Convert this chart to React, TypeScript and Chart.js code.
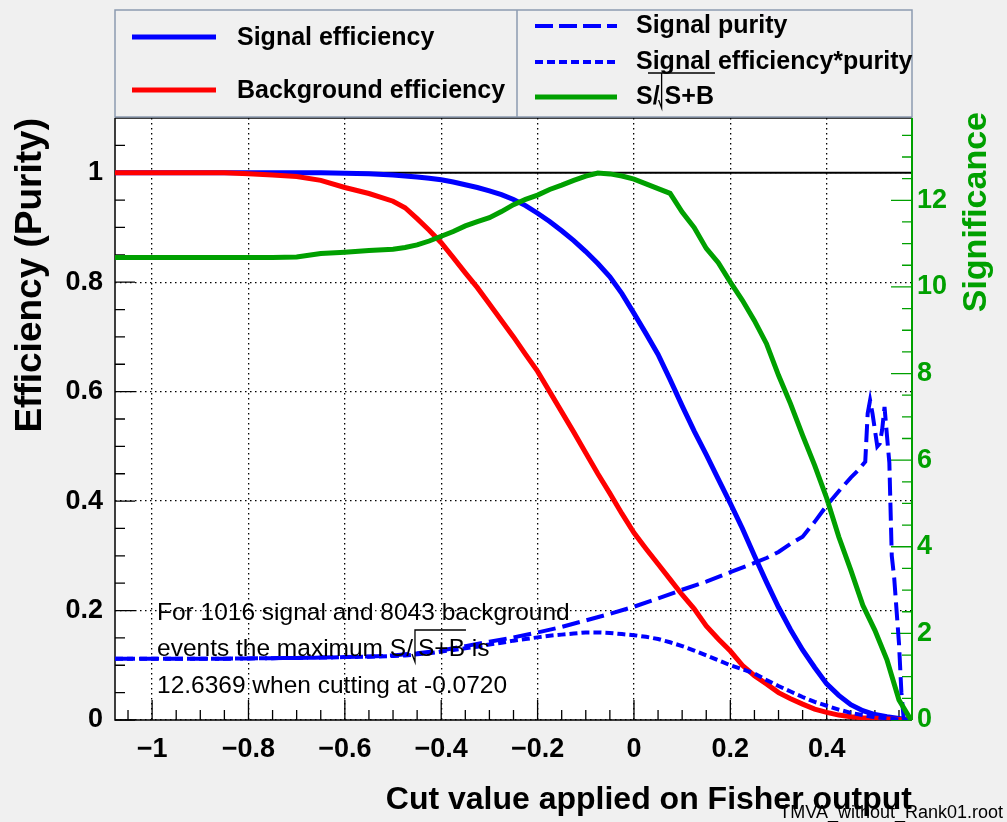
import { useEffect, useRef } from "react";
import { Chart, registerables } from "chart.js";

Chart.register(...registerables);

const BG = "#f0f0f0";
const GREEN = "#00a000";
const BLUE = "#0000ff";
const RED = "#ff0000";
const FONT = '"Liberation Sans", Arial, Helvetica, sans-serif';

const X_MIN = -1.077;
const X_MAX = 0.577;
const Y_MAX = 1.1;
const MAX_SIGNIFICANCE = 12.6369;
const MAX_CUT = -0.072;
const N_SIGNAL = 1016;
const N_BACKGROUND = 8043;

const xTickValues = [-1, -0.8, -0.6, -0.4, -0.2, 0, 0.2, 0.4];
const yTickValues = [0, 0.2, 0.4, 0.6, 0.8, 1];
const sigTickValues = [0, 2, 4, 6, 8, 10, 12];

const cutValues = [
  -1.077, -1.0, -0.95, -0.9, -0.85, -0.8, -0.75, -0.7, -0.65, -0.6, -0.55,
  -0.5, -0.475, -0.45, -0.425, -0.4, -0.375, -0.35, -0.325, -0.3, -0.275,
  -0.25, -0.225, -0.2, -0.175, -0.15, -0.125, -0.1, -0.075, -0.05, -0.025,
  0, 0.025, 0.05, 0.075, 0.1, 0.125, 0.15, 0.175, 0.2, 0.225,
  0.25, 0.275, 0.3, 0.325, 0.35, 0.375, 0.4, 0.425, 0.45, 0.475,
  0.5, 0.525, 0.55, 0.575,
];

const signalEfficiency = [
  1.0, 1.0, 1.0, 1.0, 1.0, 1.0, 1.0, 1.0, 1.0, 0.999, 0.998,
  0.996, 0.994, 0.992, 0.99, 0.987, 0.983, 0.978, 0.973, 0.967, 0.96,
  0.951, 0.94, 0.926, 0.911, 0.894, 0.876, 0.856, 0.834, 0.81, 0.779,
  0.743, 0.706, 0.668, 0.622, 0.574, 0.528, 0.485, 0.44, 0.396, 0.35,
  0.3, 0.252, 0.206, 0.165, 0.128, 0.096, 0.066, 0.045, 0.028, 0.017,
  0.01, 0.006, 0.003, 0.0,
];

const backgroundEfficiency = [
  1.0, 1.0, 1.0, 1.0, 1.0, 0.998, 0.996, 0.993, 0.986, 0.973, 0.962,
  0.948, 0.936, 0.916, 0.895, 0.872, 0.845, 0.817, 0.79, 0.76, 0.73,
  0.7, 0.668, 0.637, 0.6, 0.563, 0.526, 0.488, 0.45, 0.414, 0.377,
  0.342, 0.313, 0.285, 0.257, 0.229, 0.203, 0.172, 0.148, 0.126, 0.1,
  0.081, 0.066, 0.05, 0.039, 0.029, 0.02, 0.014, 0.009, 0.006, 0.004,
  0.003, 0.002, 0.001, 0.0,
];

const efficiencyTimesPurity = [
  0.112, 0.112, 0.112, 0.112, 0.112, 0.1125, 0.113, 0.1135, 0.114, 0.115, 0.1155,
  0.117, 0.118, 0.12, 0.122, 0.125, 0.128, 0.131, 0.134, 0.138, 0.141,
  0.145, 0.148, 0.151, 0.154, 0.156, 0.158, 0.16, 0.16, 0.159, 0.157,
  0.155, 0.152, 0.148, 0.142, 0.135, 0.127, 0.118, 0.109, 0.1, 0.093,
  0.085, 0.073, 0.062, 0.052, 0.042, 0.033, 0.026, 0.019, 0.013, 0.009,
  0.005, 0.003, 0.001, 0.0,
];

const significance = [
  10.68, 10.68, 10.68, 10.68, 10.68, 10.68, 10.68, 10.69, 10.77, 10.8, 10.84,
  10.87, 10.91, 10.97, 11.06, 11.17, 11.28, 11.41, 11.51, 11.6, 11.74,
  11.9, 12.02, 12.12, 12.25, 12.35, 12.46, 12.56, 12.63, 12.61, 12.56,
  12.49, 12.38, 12.27, 12.16, 11.73, 11.37, 10.89, 10.56, 10.11, 9.69,
  9.22, 8.69, 7.96, 7.3, 6.57, 5.88, 5.12, 4.23, 3.46, 2.65,
  2.07, 1.39, 0.46, 0.0,
];

const purityCuts = [
  -1.077, -1.0, -0.9, -0.85, -0.8, -0.75, -0.7, -0.65, -0.6, -0.55, -0.5,
  -0.45, -0.4, -0.35, -0.3, -0.25, -0.2, -0.15, -0.1, -0.05, 0,
  0.05, 0.1, 0.15, 0.2, 0.25, 0.275, 0.3, 0.325, 0.35, 0.375,
  0.4, 0.425, 0.45, 0.465, 0.48, 0.485, 0.49, 0.495, 0.5, 0.505,
  0.51, 0.515, 0.52, 0.525, 0.53, 0.535, 0.54, 0.545, 0.55, 0.555, 0.56,
];

const signalPurity = [
  0.112, 0.112, 0.112, 0.112, 0.1125, 0.113, 0.1135, 0.114, 0.115, 0.116, 0.118,
  0.122, 0.127, 0.135, 0.143, 0.151, 0.16, 0.17, 0.182, 0.194, 0.207,
  0.222, 0.238, 0.253, 0.27, 0.287, 0.296, 0.307, 0.322, 0.335, 0.362,
  0.392, 0.418, 0.443, 0.456, 0.472, 0.56, 0.584, 0.56, 0.53, 0.5,
  0.505, 0.53, 0.572, 0.52, 0.47, 0.3, 0.26, 0.2, 0.14, 0.05, 0.0,
];

const legendLeft = [
  { label: "Signal efficiency", color: BLUE, dash: [] as number[], width: 5 },
  { label: "Background efficiency", color: RED, dash: [] as number[], width: 5 },
];
const legendRight = [
  { label: "Signal purity", color: BLUE, dash: [18, 6], width: 4 },
  { label: "Signal efficiency*purity", color: BLUE, dash: [8, 4], width: 4 },
  { label: "S/", color: GREEN, dash: [] as number[], width: 5, sqrt: "S+B" },
];

function fmt(v: number): string {
  const r = Math.round(v * 10) / 10;
  if (r === 0) return "0";
  return (r < 0 ? "\u2212" : "") + String(Math.abs(r));
}

function drawRadicalText(
  ctx: CanvasRenderingContext2D,
  x: number,
  y: number,
  before: string,
  inside: string,
  after: string,
  topOff: number,
  botOff: number,
  overStart?: number
) {
  ctx.fillText(before, x, y);
  const rx = x + ctx.measureText(before).width + 2;
  const ix = rx + 3;
  ctx.fillText(inside, ix, y);
  const iw = ctx.measureText(inside).width;
  ctx.save();
  ctx.lineWidth = 1.3;
  ctx.strokeStyle = "#000";
  ctx.setLineDash([]);
  ctx.beginPath();
  ctx.moveTo(rx - 3, y + botOff - 8);
  ctx.lineTo(rx, y + botOff);
  ctx.lineTo(rx, y + topOff);
  ctx.lineTo(ix + iw + 1, y + topOff);
  if (overStart !== undefined) {
    ctx.moveTo(overStart, y + topOff);
    ctx.lineTo(rx, y + topOff);
  }
  ctx.stroke();
  ctx.restore();
  if (after) ctx.fillText(after, ix + iw, y);
}

const rootStyle = {
  id: "rootStyle",
  beforeDraw(chart: any) {
    const { ctx, chartArea: a } = chart;
    ctx.save();
    ctx.fillStyle = BG;
    ctx.fillRect(0, 0, chart.width, chart.height);
    ctx.fillStyle = "#ffffff";
    ctx.fillRect(a.left, a.top, a.right - a.left, a.bottom - a.top);
    ctx.restore();
  },
  beforeDatasetsDraw(chart: any) {
    const { ctx, chartArea: a } = chart;
    const xs = chart.scales.x;
    const ys = chart.scales.y;
    const ys1 = chart.scales.y1;
    ctx.save();
    ctx.setLineDash([]);
    ctx.strokeStyle = "#000";
    ctx.lineWidth = 2;
    const y1px = ys.getPixelForValue(1);
    ctx.beginPath();
    ctx.moveTo(a.left, y1px);
    ctx.lineTo(a.right, y1px);
    ctx.stroke();
    ctx.lineWidth = 1.3;
    ctx.beginPath();
    for (let k = -21; k <= 11; k++) {
      const px = xs.getPixelForValue(k * 0.05);
      const len = k % 4 === 0 ? 20 : 10;
      ctx.moveTo(px, a.bottom);
      ctx.lineTo(px, a.bottom - len);
    }
    for (let k = 0; k <= 21; k++) {
      const py = ys.getPixelForValue(k * 0.05);
      const len = k % 4 === 0 ? 20 : 10;
      ctx.moveTo(a.left, py);
      ctx.lineTo(a.left + len, py);
    }
    ctx.stroke();
    ctx.lineWidth = 1.5;
    ctx.beginPath();
    ctx.moveTo(a.left, a.top);
    ctx.lineTo(a.left, a.bottom);
    ctx.lineTo(a.right, a.bottom);
    ctx.moveTo(a.left, a.top);
    ctx.lineTo(a.right, a.top);
    ctx.stroke();
    ctx.strokeStyle = GREEN;
    ctx.lineWidth = 1.3;
    ctx.beginPath();
    for (let k = 0; k <= 27; k++) {
      const py = ys1.getPixelForValue(k * 0.5);
      const len = k % 4 === 0 ? 21 : 10;
      ctx.moveTo(a.right, py);
      ctx.lineTo(a.right - len, py);
    }
    ctx.stroke();
    ctx.lineWidth = 2;
    ctx.beginPath();
    ctx.moveTo(a.right, a.top);
    ctx.lineTo(a.right, a.bottom);
    ctx.stroke();
    ctx.restore();
  },
  afterDraw(chart: any) {
    const { ctx, chartArea: a } = chart;
    ctx.save();
    ctx.setLineDash([]);
    ctx.fillStyle = "#000";
    ctx.font = `bold 32px ${FONT}`;
    ctx.textAlign = "right";
    ctx.textBaseline = "alphabetic";
    ctx.fillText("Cut value applied on Fisher output", a.right, 809);

    ctx.save();
    ctx.translate(31, a.top);
    ctx.rotate(-Math.PI / 2);
    ctx.font = `bold 37px ${FONT}`;
    ctx.textAlign = "right";
    ctx.textBaseline = "middle";
    ctx.fillText("Efficiency (Purity)", 0, 0);
    ctx.restore();

    ctx.save();
    ctx.translate(977, a.top - 6);
    ctx.rotate(-Math.PI / 2);
    ctx.font = `bold 34px ${FONT}`;
    ctx.fillStyle = GREEN;
    ctx.textAlign = "right";
    ctx.textBaseline = "middle";
    ctx.fillText("Significance", 0, 0);
    ctx.restore();

    ctx.font = `18px ${FONT}`;
    ctx.textAlign = "right";
    ctx.textBaseline = "alphabetic";
    ctx.fillStyle = "#000";
    ctx.fillText("TMVA_without_Rank01.root", 1003, 818);

    ctx.font = `24.5px ${FONT}`;
    ctx.textAlign = "left";
    ctx.textBaseline = "middle";
    const ax = 157;
    ctx.fillText(`For ${N_SIGNAL} signal and ${N_BACKGROUND} background`, ax, 613);
    drawRadicalText(ctx, ax, 649, "events the maximum S/", "S+B", " is", -19, 13);
    ctx.fillText(
      `${MAX_SIGNIFICANCE.toFixed(4)} when cutting at ${MAX_CUT.toFixed(4)}`,
      ax,
      686
    );

    ctx.strokeStyle = "#8c9bb0";
    ctx.lineWidth = 1.5;
    ctx.strokeRect(a.left, 10, a.right - a.left, 107);
    ctx.beginPath();
    ctx.moveTo(517, 10);
    ctx.lineTo(517, 117);
    ctx.stroke();

    ctx.font = `bold 25px ${FONT}`;
    ctx.textAlign = "left";
    ctx.textBaseline = "middle";
    const leftYs = [37, 90];
    legendLeft.forEach((item, i) => {
      ctx.strokeStyle = item.color;
      ctx.lineWidth = item.width;
      ctx.setLineDash(item.dash);
      ctx.beginPath();
      ctx.moveTo(132, leftYs[i]);
      ctx.lineTo(216, leftYs[i]);
      ctx.stroke();
      ctx.setLineDash([]);
      ctx.fillStyle = "#000";
      ctx.fillText(item.label, 237, leftYs[i] + 1);
    });
    const rightYs = [26, 62, 97];
    legendRight.forEach((item, i) => {
      ctx.strokeStyle = item.color;
      ctx.lineWidth = item.width;
      ctx.setLineDash(item.dash);
      ctx.beginPath();
      ctx.moveTo(535, rightYs[i]);
      ctx.lineTo(617, rightYs[i]);
      ctx.stroke();
      ctx.setLineDash([]);
      ctx.fillStyle = "#000";
      if (item.sqrt) {
        drawRadicalText(ctx, 636, rightYs[i], item.label, item.sqrt, "", -24, 11, 648);
      } else {
        ctx.fillText(item.label, 636, rightYs[i]);
      }
    });
    ctx.restore();
  },
};

export default function App() {
  const ref = useRef<HTMLCanvasElement | null>(null);
  useEffect(() => {
    document.body.style.margin = "0";
    document.body.style.background = BG;
    const tickFont = { family: FONT, size: 27, weight: "bold" as const };
    const chart = new Chart(ref.current as HTMLCanvasElement, {
      type: "line",
      data: {
        datasets: [
          {
            label: "S/sqrt(S+B)",
            data: cutValues.map((x, i) => ({ x, y: significance[i] })),
            yAxisID: "y1",
            borderColor: GREEN,
            borderWidth: 5,
            pointRadius: 0,
          },
          {
            label: "Signal efficiency*purity",
            data: cutValues.map((x, i) => ({ x, y: efficiencyTimesPurity[i] })),
            yAxisID: "y",
            borderColor: BLUE,
            borderWidth: 4,
            borderDash: [8, 4],
            pointRadius: 0,
          },
          {
            label: "Signal purity",
            data: purityCuts.map((x, i) => ({ x, y: signalPurity[i] })),
            yAxisID: "y",
            borderColor: BLUE,
            borderWidth: 4,
            borderDash: [18, 7],
            pointRadius: 0,
          },
          {
            label: "Background efficiency",
            data: cutValues.map((x, i) => ({ x, y: backgroundEfficiency[i] })),
            yAxisID: "y",
            borderColor: RED,
            borderWidth: 5,
            pointRadius: 0,
          },
          {
            label: "Signal efficiency",
            data: cutValues.map((x, i) => ({ x, y: signalEfficiency[i] })),
            yAxisID: "y",
            borderColor: BLUE,
            borderWidth: 5,
            pointRadius: 0,
          },
        ],
      },
      options: {
        responsive: false,
        maintainAspectRatio: false,
        animation: false,
        events: [],
        layout: { padding: { top: 118, left: 0, right: 0, bottom: 0 } },
        plugins: { legend: { display: false }, tooltip: { enabled: false } },
        scales: {
          x: {
            type: "linear",
            min: X_MIN,
            max: X_MAX,
            bounds: "data",
            afterBuildTicks: (s: any) => {
              s.ticks = xTickValues.map((value) => ({ value }));
            },
            afterFit: (s: any) => {
              s.height = 102;
            },
            grid: { color: "#000", lineWidth: 1.3, drawTicks: false },
            border: { display: false, dash: [1.5, 3.5] },
            ticks: {
              font: tickFont,
              color: "#000",
              padding: 13,
              maxRotation: 0,
              autoSkip: false,
              callback: (v: any) => fmt(Number(v)),
            },
          },
          y: {
            type: "linear",
            position: "left",
            min: 0,
            max: Y_MAX,
            bounds: "data",
            afterBuildTicks: (s: any) => {
              s.ticks = yTickValues.map((value) => ({ value }));
            },
            afterFit: (s: any) => {
              s.width = 115;
            },
            grid: { color: "#000", lineWidth: 1.3, drawTicks: false },
            border: { display: false, dash: [1.5, 3.5] },
            ticks: {
              font: tickFont,
              color: "#000",
              padding: 12,
              autoSkip: false,
              callback: (v: any) => fmt(Number(v)),
            },
          },
          y1: {
            type: "linear",
            position: "right",
            min: 0,
            max: MAX_SIGNIFICANCE * Y_MAX,
            bounds: "data",
            afterBuildTicks: (s: any) => {
              s.ticks = sigTickValues.map((value) => ({ value }));
            },
            afterFit: (s: any) => {
              s.width = 95;
            },
            grid: { display: false, drawTicks: false },
            border: { display: false },
            ticks: {
              font: tickFont,
              color: GREEN,
              padding: 5,
              autoSkip: false,
              callback: (v: any) => String(v),
            },
          },
        },
      },
      plugins: [rootStyle],
    });
    return () => chart.destroy();
  }, []);
  return (
    <canvas
      ref={ref}
      width={1007}
      height={822}
      style={{ display: "block", width: "1007px", height: "822px" }}
    />
  );
}
